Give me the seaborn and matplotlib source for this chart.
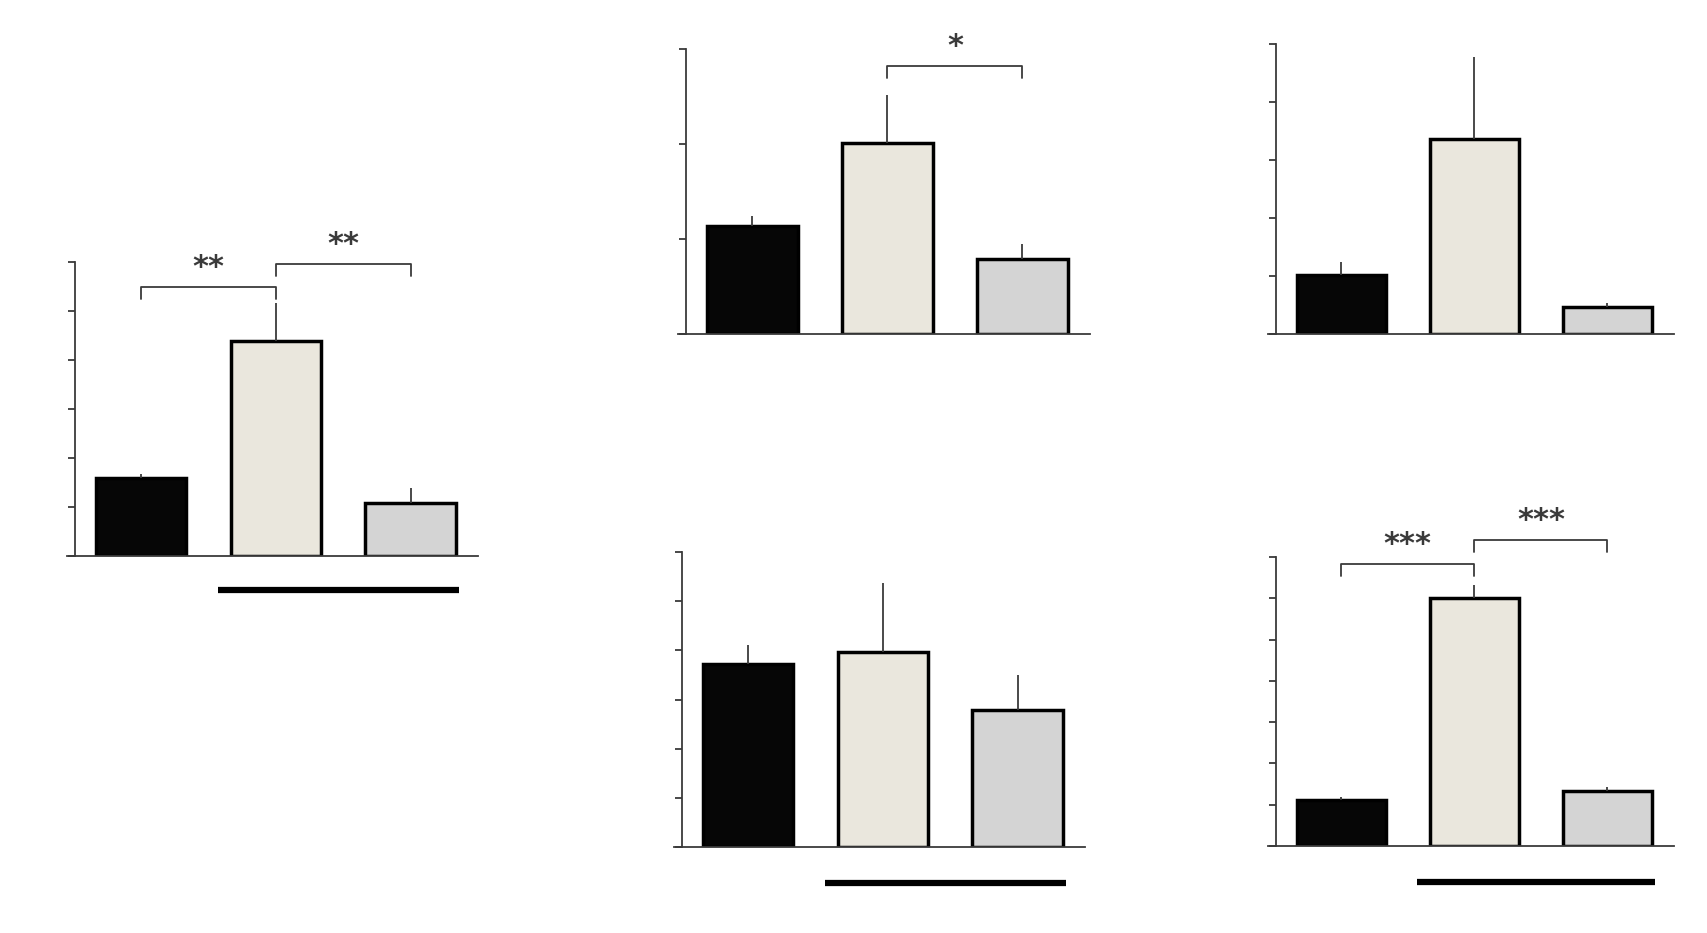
import matplotlib
matplotlib.use("Agg")
import matplotlib.pyplot as plt
import seaborn as sns

GROUPS = ["A", "B", "C"]
COLORS = ["#060606", "#ece8db", "#d4d4d4"]

# bar heights (in tick units) and upper error for each panel
MEANS_1 = [1.59, 4.39, 1.08]
ERRS_1 = [0.08, 0.77, 0.31]
MEANS_2 = [1.14, 2.01, 0.79]
ERRS_2 = [0.10, 0.51, 0.16]
MEANS_3 = [1.02, 3.36, 0.47]
ERRS_3 = [0.22, 1.42, 0.06]
MEANS_4 = [3.73, 3.96, 2.78]
ERRS_4 = [0.37, 1.41, 0.71]
MEANS_5 = [1.11, 6.00, 1.33]
ERRS_5 = [0.08, 0.32, 0.10]

# number of y tick intervals per panel
YMAX = [6, 3, 5, 6, 7]

# significance labels: (from bar, to bar, label)
SIG_1 = [(0, 1, "**"), (1, 2, "**")]
SIG_2 = [(1, 2, "*")]
SIG_5 = [(0, 1, "***"), (1, 2, "***")]

W, H = 1708, 933
AXCOL = "#3a3a3a"


def make_axes(fig, left, right, bottom, top):
    ''' builds an axes from pixel box (top-left origin) '''
    return fig.add_axes([left / W, 1 - bottom / H,
                         (right - left) / W, (bottom - top) / H])


def plot_panel(ax, means, errs, ymax):
    ''' draws one bar panel with one-sided error bars '''
    sns.barplot(x=GROUPS, y=means, hue=GROUPS, palette=COLORS, legend=False,
                width=0.67, edgecolor="black", linewidth=2.5,
                errorbar=None, ax=ax)
    ax.errorbar(range(len(means)), means, yerr=[[0] * len(errs), errs],
                fmt="none", ecolor=AXCOL, elinewidth=1.3, capsize=0,
                zorder=1)
    ax.set_xlim(-0.55, 2.5)
    ax.set_ylim(0, ymax)
    ax.set_yticks(range(ymax + 1))
    ax.set_yticklabels([])
    ax.set_xticks([])
    ax.set_xlabel("")
    ax.set_ylabel("")
    for side in ["top", "right"]:
        ax.spines[side].set_visible(False)
    for side in ["left", "bottom"]:
        ax.spines[side].set_color(AXCOL)
        ax.spines[side].set_linewidth(1.3)
    ax.spines["left"].set_position(("data", -0.49))
    ax.spines["left"].set_bounds(0, ymax)
    ax.tick_params(axis="y", left=True, direction="out", length=5,
                   width=1.3, color=AXCOL)
    ax.patch.set_alpha(0)


def add_brackets(ax, sigs, levels, unit):
    ''' draws significance brackets above bars '''
    for (a, b, label), y in zip(sigs, levels):
        drop = unit * 0.25
        ax.plot([a, a, b, b], [y - drop, y, y, y - drop], color=AXCOL,
                lw=1.3, clip_on=False)
        ax.text((a + b) / 2, y + unit * 0.1, label, ha="center",
                va="bottom", fontsize=22, fontweight="bold", color=AXCOL,
                clip_on=False)


def add_underline(ax, y):
    ''' thick black line below the last two bars '''
    ax.plot([0.57, 2.36], [y, y], color="black", lw=4.5,
            solid_capstyle="butt", clip_on=False)


def main():
    sns.set_style("white")
    fig = plt.figure(figsize=(W / 100, H / 100), dpi=100)

    ax1 = make_axes(fig, 67, 478, 556, 262)
    plot_panel(ax1, MEANS_1, ERRS_1, YMAX[0])
    add_brackets(ax1, SIG_1, [5.49, 5.96], 1.0)
    add_underline(ax1, -0.69)

    ax2 = make_axes(fig, 678, 1090, 334, 49)
    plot_panel(ax2, MEANS_2, ERRS_2, YMAX[1])
    add_brackets(ax2, SIG_2, [2.82], 0.52)

    ax3 = make_axes(fig, 1268, 1674, 334, 44)
    plot_panel(ax3, MEANS_3, ERRS_3, YMAX[2])

    ax4 = make_axes(fig, 674, 1085, 847, 552)
    plot_panel(ax4, MEANS_4, ERRS_4, YMAX[3])
    add_underline(ax4, -0.73)

    ax5 = make_axes(fig, 1268, 1674, 846, 557)
    plot_panel(ax5, MEANS_5, ERRS_5, YMAX[4])
    add_brackets(ax5, SIG_5, [6.83, 7.41], 1.18)
    add_underline(ax5, -0.87)

    fig.savefig("out.png", dpi=100, facecolor="white")


if __name__ == "__main__":
    main()
